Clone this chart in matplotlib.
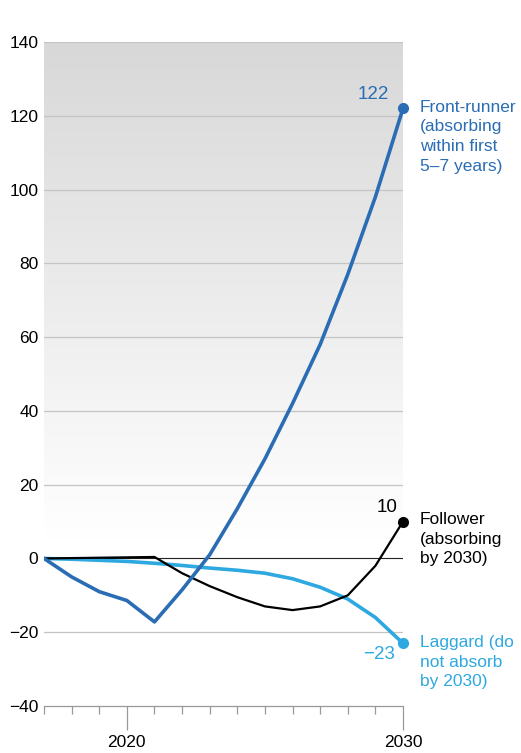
import numpy as np
import matplotlib
matplotlib.use('Agg')
import matplotlib.pyplot as plt
from matplotlib.colors import LinearSegmentedColormap

plt.rcParams['font.family'] = ['Liberation Sans', 'DejaVu Sans']

years = list(range(2017, 2031))
front_runner = [0, -5, -9, -11.4, -17.2, -8.5, 1, 13.5, 27, 42, 58, 77, 98, 122]
follower = [0, 0.1, 0.2, 0.3, 0.4, -4, -7.5, -10.5, -13, -14, -13, -10, -2, 10]
laggard = [0, -0.2, -0.5, -0.8, -1.3, -1.9, -2.6, -3.2, -4, -5.5, -7.8, -11, -16, -23]

c_front = '#2a6db5'
c_follow = '#000000'
c_lag = '#2ea8e0'

fig = plt.figure(figsize=(5.21, 7.53), dpi=100)
ax = fig.add_axes([0.0845, 0.0624, 0.689, 0.8818])
ax.set_xlim(2017, 2030)
ax.set_ylim(-40, 140)

# fond gris en degrade jusqu'a zero
cmap = LinearSegmentedColormap.from_list('bg', ['#ffffff', '#d8d8d8'])
grad = np.linspace(0, 1, 256).reshape(-1, 1)
ax.imshow(grad, cmap=cmap, aspect='auto', extent=[2017, 2030, 5, 140],
          origin='lower', zorder=0)

for v in range(-20, 141, 20):
    if v != 0:
        ax.axhline(v, color='#c4c4c4', lw=0.9, zorder=1)
ax.axhline(0, color='#222222', lw=0.8, zorder=2)

ax.plot(years, laggard, color=c_lag, lw=2.6, zorder=3)
ax.plot(years, follower, color=c_follow, lw=1.6, zorder=4)
ax.plot(years, front_runner, color=c_front, lw=2.6, zorder=5)

ax.plot(2030, front_runner[-1], 'o', color=c_front, ms=7, zorder=6, clip_on=False)
ax.plot(2030, follower[-1], 'o', color=c_follow, ms=7, zorder=6, clip_on=False)
ax.plot(2030, laggard[-1], 'o', color=c_lag, ms=7, zorder=6, clip_on=False)

ax.text(2029.5, front_runner[-1] + 1.5, '122', color=c_front, fontsize=13.5,
        ha='right', va='bottom')
ax.text(2029.8, follower[-1] + 1.5, '10', color=c_follow, fontsize=13.5,
        ha='right', va='bottom')
ax.text(2029.7, laggard[-1] - 0.8, '\u221223', color=c_lag, fontsize=13.5,
        ha='right', va='top')

ax.text(2030.6, 124.3, 'Front-runner\n(absorbing\nwithin first\n5\u20137 years)',
        color=c_front, fontsize=12.5, va='top', linespacing=1.38)
ax.text(2030.6, 12.5, 'Follower\n(absorbing\nby 2030)', color=c_follow,
        fontsize=12.5, va='top', linespacing=1.38)
ax.text(2030.6, -20.8, 'Laggard (do\nnot absorb\nby 2030)', color=c_lag,
        fontsize=12.5, va='top', linespacing=1.38)

for s in ['top', 'right', 'left']:
    ax.spines[s].set_visible(False)
ax.spines['bottom'].set_color('#999999')
ax.spines['bottom'].set_linewidth(0.9)

ax.set_yticks(range(-40, 141, 20))
ax.set_yticklabels([str(v).replace('-', '\u2212') for v in range(-40, 141, 20)])
ax.tick_params(axis='y', length=0, labelsize=12.5, pad=4)

ax.set_xticks([2020, 2030])
ax.set_xticklabels(['2020', '2030'])
ax.set_xticks(years, minor=True)
ax.tick_params(axis='x', which='major', length=17, width=0.9, color='#999999',
               labelsize=12.5, pad=4)
ax.tick_params(axis='x', which='minor', length=6, width=0.9, color='#999999')

fig.savefig('out.png', dpi=100)
